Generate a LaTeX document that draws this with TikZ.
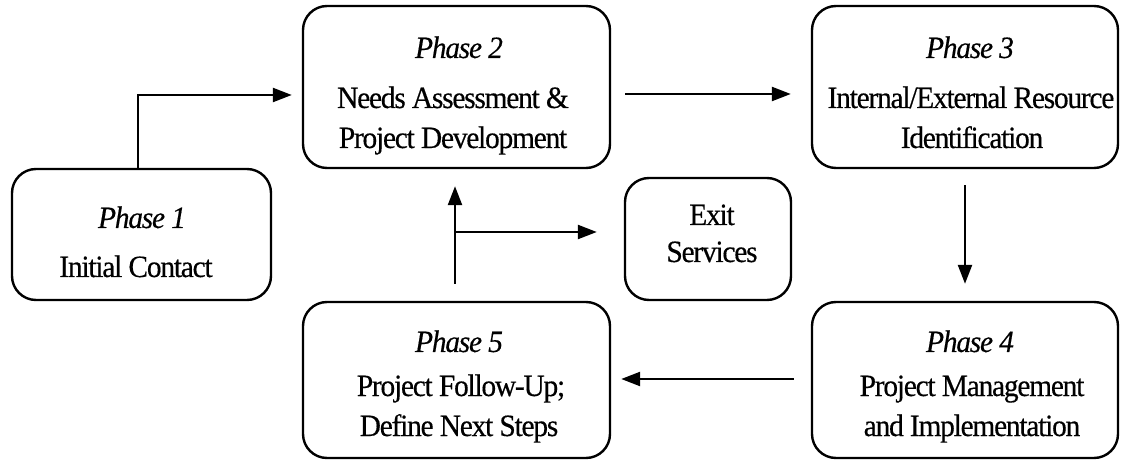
\documentclass[tikz,border=0pt]{standalone}
\usepackage{fontspec}
\setmainfont{Liberation Serif}[FakeStretch=0.95, LetterSpace=-4, FakeBold=0.4]
\usetikzlibrary{arrows.meta}
\begin{document}
\begin{tikzpicture}[x=1pt,y=-1pt,
  box/.style={draw, line width=2.4pt, rounded corners=24pt, inner sep=0pt},
  link/.style={line width=2.4pt, -{Triangle[length=19pt,width=14pt]}},
  txt/.style={anchor=base, inner sep=0pt, font=\fontsize{31}{36}\selectfont},
  ttl/.style={anchor=base, inner sep=0pt, font=\fontsize{31}{36}\selectfont\itshape}]
\useasboundingbox (0,0) rectangle (1125,462);

% phase boxes
\node[box, minimum width=259pt, minimum height=131pt] (p1) at (141.5,234.5) {};
\node[box, minimum width=307pt, minimum height=162pt] (p2) at (456.5,87) {};
\node[box, minimum width=306pt, minimum height=162pt] (p3) at (965,87) {};
\node[box, minimum width=306pt, minimum height=156pt] (p4) at (965,380) {};
\node[box, minimum width=307pt, minimum height=156pt] (p5) at (456.5,380) {};
\node[box, minimum width=166pt, minimum height=122pt] (ex) at (708,239) {};

% box texts
\node[ttl] (p1a) at (142,228) {Phase 1};
\node[txt] (p1b) at (136,277) {Initial Contact};

\node[ttl] (p2a) at (459,58) {Phase 2};
\node[txt] (p2b) at (453,108) {Needs Assessment \&};
\node[txt] (p2c) at (453,148) {Project Development};

\node[ttl] (p3a) at (970,58) {Phase 3};
\node[txt] (p3b) at (971,108) {Internal/External Resource};
\node[txt] (p3c) at (972,148) {Identification};

\node[ttl] (p4a) at (970,352) {Phase 4};
\node[txt] (p4b) at (972,396) {Project Management};
\node[txt] (p4c) at (972,436) {and Implementation};

\node[ttl] (p5a) at (459,352) {Phase 5};
\node[txt] (p5b) at (461,396) {Project Follow-Up;};
\node[txt] (p5c) at (459,436) {Define Next Steps};

\node[txt] (exa) at (712,225) {Exit};
\node[txt] (exb) at (712,262) {Services};

% connectors
\draw[link, shorten >=10pt] (p1.north -| 138,0) |- (p2.west |- 0,95);
\draw[link, shorten <=14pt, shorten >=20pt] (p2.east |- 0,94) -- (p3.west |- 0,94);
\draw[link, shorten <=16pt, shorten >=17pt] (p3.south) -- (p4.north);
\draw[link, shorten <=17pt, shorten >=10pt] (p4.west |- 0,379) -- (p5.east |- 0,379);
\draw[link, shorten <=17pt, shorten >=17pt] (p5.north -| 455,0) -- (p2.south -| 455,0);
\coordinate (split) at (455,232);
\draw[link, shorten >=27pt] (split) -- (ex.west |- split);
\end{tikzpicture}
\end{document}
